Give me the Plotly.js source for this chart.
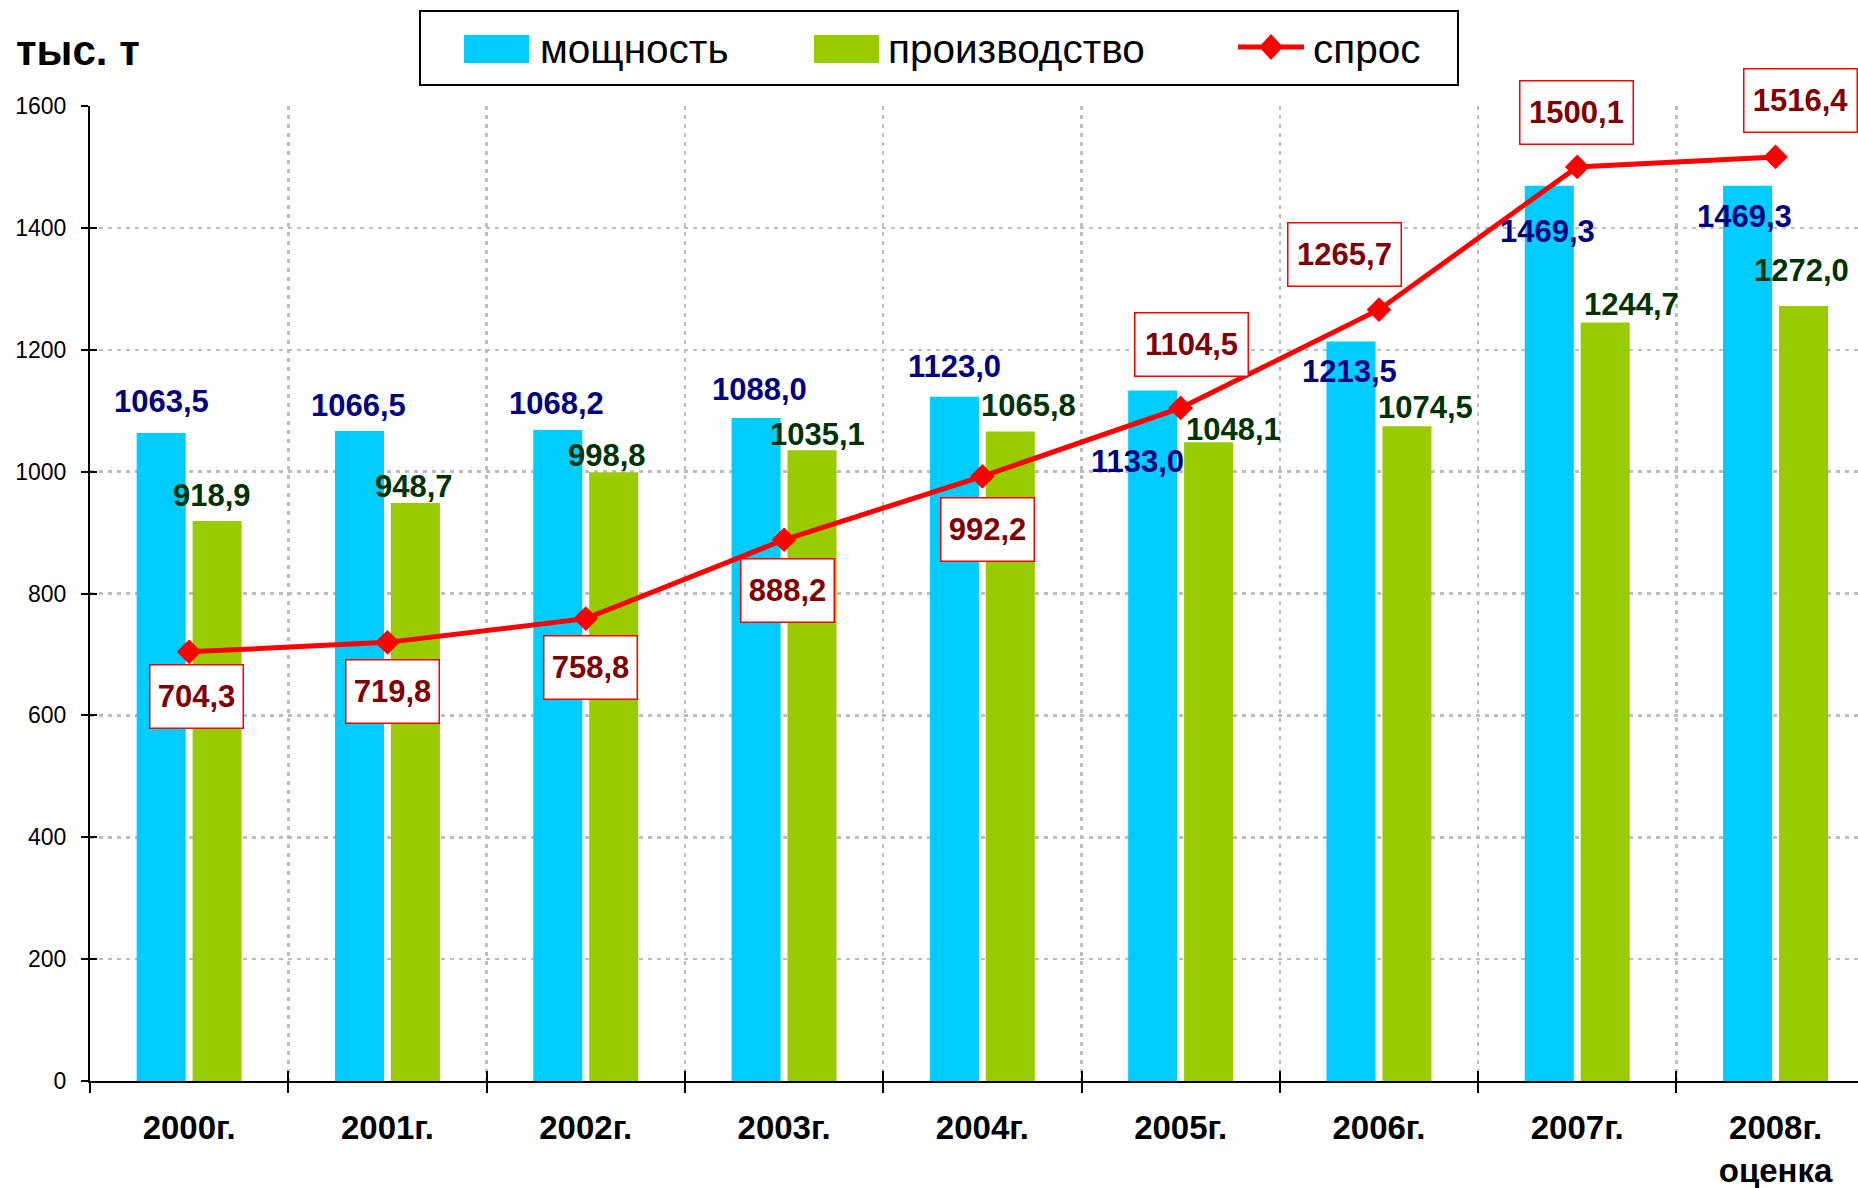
<!DOCTYPE html>
<html>
<head>
<meta charset="utf-8">
<script src="https://cdn.plot.ly/plotly-3.0.1.min.js"></script>
<style>html,body{margin:0;padding:0;background:#fff;}#chart{width:1858px;height:1188px;}</style>
</head>
<body>
<div id="chart"></div>
<script>
// ---- data ----
const years = ['2000г.', '2001г.', '2002г.', '2003г.', '2004г.', '2005г.', '2006г.', '2007г.', '2008г.<br>оценка'];
const capacity = [1063.5, 1066.5, 1068.2, 1088.0, 1123.0, 1133.0, 1213.5, 1469.3, 1469.3];
const production = [918.9, 948.7, 998.8, 1035.1, 1065.8, 1048.1, 1074.5, 1244.7, 1272.0];
const demand = [704.3, 719.8, 758.8, 888.2, 992.2, 1104.5, 1265.7, 1500.1, 1516.4];
const seriesNames = ['мощность', 'производство', 'спрос'];
const unitLabel = 'тыс. т';

// ---- label placement (pixel shifts, layout only) ----
const capShift  = [[-28,31],[-28.5,26],[-29,27],[-25,29],[-28,30],[-43,-71],[-29,-30],[-30,-46],[-31,-31]];
const prodShift = [[23,26],[27,16],[21,17],[33,16],[46,26],[53,13],[47,19],[54,18],[26,35]];
const demShift  = [[7,-45],[5.5,-49],[5,-49],[3,-51],[5,-53],[11,63],[-34,55],[-1,54],[25,56]];

const W = 1858, H = 1188, L = 90, R = 0, T = 106, B = 107;
const pw = W - L - R, ph = H - T - B;
const px = v => (v - L) / pw;
const py = v => (H - B - v) / ph;

const FONT = 'Liberation Sans, Arial, sans-serif';
const BLUE = '#00ccff', GREEN = '#99cc00', RED = '#ff0000';
const fmt = v => v.toFixed(1).replace('.', ',');

const traces = [
  {type: 'bar', name: seriesNames[0], x: years, y: capacity, marker: {color: BLUE}, showlegend: false, hoverinfo: 'skip'},
  {type: 'bar', name: seriesNames[1], x: years, y: production, marker: {color: GREEN}, showlegend: false, hoverinfo: 'skip'},
  {type: 'scatter', mode: 'lines+markers', name: seriesNames[2], x: years, y: demand,
   line: {color: RED, width: 5}, marker: {symbol: 'diamond', size: 19, color: RED}, cliponaxis: false, showlegend: false, hoverinfo: 'skip'},
  {type: 'scatter', x: [], y: [], xaxis: 'x2', yaxis: 'y2', showlegend: false, hoverinfo: 'skip'}
];

const annotations = [];
years.forEach((yr, i) => {
  annotations.push({x: yr, y: capacity[i], xref: 'x', yref: 'y', text: '<b>' + fmt(capacity[i]) + '</b>', showarrow: false,
    xshift: capShift[i][0], yshift: capShift[i][1], font: {family: FONT, size: 31, color: '#000080'}});
  annotations.push({x: yr, y: production[i], xref: 'x', yref: 'y', text: '<b>' + fmt(production[i]) + '</b>', showarrow: false,
    xshift: prodShift[i][0], yshift: prodShift[i][1], font: {family: FONT, size: 31, color: '#003300'}});
  const s = fmt(demand[i]);
  annotations.push({x: yr, y: demand[i], xref: 'x', yref: 'y', text: '<b>' + s + '</b>', showarrow: false,
    xshift: demShift[i][0], yshift: demShift[i][1], font: {family: FONT, size: 31, color: '#800000'},
    bgcolor: '#ffffff', bordercolor: RED, borderwidth: 1.5, borderpad: 1,
    width: s.length > 5 ? 110 : 90, height: 60});
});

// unit label
annotations.push({xref: 'paper', yref: 'paper', x: px(14), y: py(51), xanchor: 'left', yanchor: 'middle', showarrow: false,
  text: '<b>' + unitLabel + '</b>', font: {family: FONT, size: 42, color: '#000'}});
// legend texts
const legTextX = [538, 886, 1311];
seriesNames.forEach((n, i) => {
  annotations.push({xref: 'paper', yref: 'paper', x: px(legTextX[i]), y: py(49), xanchor: 'left', yanchor: 'middle', showarrow: false,
    text: n, font: {family: FONT, size: 40.5, color: '#000'}});
});

const dcx = 1271, dcy = 47, dhw = 12, dhh = 13;
const shapes = [
  {type: 'rect', xref: 'paper', yref: 'paper', x0: px(420), x1: px(1458), y0: py(85), y1: py(11), line: {color: '#000', width: 2}, fillcolor: '#fff'},
  {type: 'rect', xref: 'paper', yref: 'paper', x0: px(464), x1: px(529), y0: py(63), y1: py(35), line: {width: 0}, fillcolor: BLUE},
  {type: 'rect', xref: 'paper', yref: 'paper', x0: px(814), x1: px(879), y0: py(63), y1: py(35), line: {width: 0}, fillcolor: GREEN},
  {type: 'line', xref: 'paper', yref: 'paper', x0: px(1238), x1: px(1304), y0: py(dcy), y1: py(dcy), line: {color: RED, width: 5}},
  {type: 'path', xref: 'paper', yref: 'paper', fillcolor: RED, line: {width: 0},
   path: `M${px(dcx)},${py(dcy - dhh)} L${px(dcx + dhw)},${py(dcy)} L${px(dcx)},${py(dcy + dhh)} L${px(dcx - dhw)},${py(dcy)} Z`}
];

const xrange = [-0.5, -0.5 + pw / 198.3];
const layout = {
  width: W, height: H,
  margin: {l: L, r: R, t: T, b: B, pad: 0},
  paper_bgcolor: '#fff', plot_bgcolor: '#fff',
  font: {family: FONT, color: '#000'},
  barmode: 'group', bargap: 0.436, bargroupgap: 0.123,
  xaxis: {type: 'category', range: xrange, tickson: 'boundaries', ticks: 'outside', ticklen: 10, tickwidth: 2, tickcolor: '#000',
    showline: true, linecolor: '#000', linewidth: 2, showgrid: true, gridcolor: '#bdbdbd', gridwidth: 2.5, griddash: '4px,5px',
    tickfont: {family: FONT, size: 33, color: '#000', weight: 'bold'}, ticklabelstandoff: 16, zeroline: false, fixedrange: true},
  yaxis: {range: [0, 1600], dtick: 200, tick0: 0, ticks: 'outside', ticklen: 7, tickwidth: 2, tickcolor: '#000',
    showline: true, linecolor: '#000', linewidth: 2, showgrid: true, gridcolor: '#bdbdbd', gridwidth: 2.5, griddash: '4px,5px',
    zeroline: false, tickfont: {family: FONT, size: 23, color: '#000'}, ticklabelstandoff: 10, fixedrange: true},
  xaxis2: {overlaying: 'x', anchor: 'y2', type: 'linear', range: xrange, tick0: -0.5, dtick: 1, ticks: 'inside', ticklen: 10, tickwidth: 2,
    tickcolor: '#000', showticklabels: false, showgrid: false, showline: false, zeroline: false, fixedrange: true},
  yaxis2: {overlaying: 'y', anchor: 'x2', side: 'left', range: [0, 1600], tick0: 0, dtick: 200, ticks: 'inside', ticklen: 7, tickwidth: 2,
    tickcolor: '#000', showticklabels: false, showgrid: false, showline: false, zeroline: false, fixedrange: true},
  annotations: annotations,
  shapes: shapes,
  showlegend: false
};

Plotly.newPlot('chart', traces, layout, {displayModeBar: false, staticPlot: true});
</script>
</body>
</html>
